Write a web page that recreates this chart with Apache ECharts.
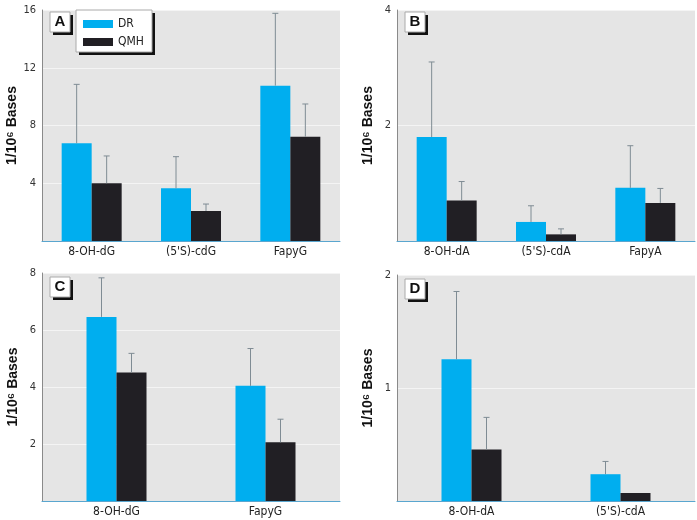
<!DOCTYPE html>
<html><head><meta charset="utf-8">
<script src="https://cdn.jsdelivr.net/npm/echarts@6/dist/echarts.min.js"></script>
<style>html,body{margin:0;padding:0;background:#fff}#c{width:697px;height:520px}</style>
</head><body><div id="c"></div>
<script>
// ---- data ----
const catsA = ['8-OH-dG', "(5'S)-cdG", 'FapyG'];
const drA = [6.77, 3.65, 10.76];
const drErrA = [4.08, 2.19, 5.01];
const qmhA = [4.0, 2.08, 7.22];
const qmhErrA = [1.89, 0.48, 2.27];

const catsB = ['8-OH-dA', "(5'S)-cdA", 'FapyA'];
const drB = [1.80, 0.33, 0.92];
const drErrB = [1.30, 0.28, 0.73];
const qmhB = [0.70, 0.115, 0.66];
const qmhErrB = [0.33, 0.095, 0.25];

const catsC = ['8-OH-dG', 'FapyG'];
const drC = [6.46, 4.04];
const drErrC = [1.37, 1.31];
const qmhC = [4.51, 2.06];
const qmhErrC = [0.67, 0.81];

const catsD = ['8-OH-dA', "(5'S)-cdA"];
const drD = [1.254, 0.237];
const drErrD = [0.60, 0.113];
const qmhD = [0.456, 0.071];
const qmhErrD = [0.284, 0];

const yMax = [16, 4, 8, 2];
const yInt = [4, 2, 2, 1];
const panelLabels = ['A', 'B', 'C', 'D'];

// ---- styles ----
const CYAN = '#00aeef', DARK = '#211f24', ERR = '#7f8c94';
const FONT = "'Liberation Sans Narrow','DejaVu Sans Condensed','Liberation Sans',sans-serif";
const BW = 30;

const grids = [
  {left: 42, top: 10, width: 298, height: 231},
  {left: 397, top: 10, width: 298, height: 231},
  {left: 42, top: 273, width: 298, height: 228},
  {left: 397, top: 275, width: 298, height: 226}
];
const panels = [
  [catsA, drA, drErrA, qmhA, qmhErrA],
  [catsB, drB, drErrB, qmhB, qmhErrB],
  [catsC, drC, drErrC, qmhC, qmhErrC],
  [catsD, drD, drErrD, qmhD, qmhErrD]
];

function shadowBox(x, y, w, h) {
  return [
    {type: 'rect', z: 3, shape: {x: x + 3, y: y + 3, width: w, height: h}, style: {fill: '#111'}},
    {type: 'rect', z: 3, shape: {x: x, y: y, width: w, height: h}, style: {fill: '#fff', stroke: '#aaa', lineWidth: 1}}
  ];
}

const option = {
  animation: false,
  grid: grids.map(g => Object.assign({show: true, backgroundColor: '#e5e5e5', borderWidth: 0}, g)),
  xAxis: panels.map((p, i) => ({
    type: 'category', gridIndex: i, data: p[0],
    axisLine: {lineStyle: {color: '#5aa6cf', width: 1}},
    axisTick: {show: false},
    axisLabel: {color: '#222', fontSize: 12, fontFamily: FONT, margin: 5}
  })),
  yAxis: panels.map((p, i) => ({
    type: 'value', gridIndex: i, min: 0, max: yMax[i], interval: yInt[i],
    name: '1/10⁶ Bases', nameLocation: 'middle', nameGap: 22,
    nameTextStyle: {fontSize: 14, fontWeight: 'bold', color: '#111', fontFamily: "'Liberation Sans','Arial',sans-serif"},
    axisLine: {show: true, lineStyle: {color: '#8a8a8a', width: 1}},
    axisTick: {show: false},
    axisLabel: {showMinLabel: false, color: '#333', fontSize: 11, fontFamily: FONT, margin: 6},
    splitLine: {lineStyle: {color: '#f4f4f4', width: 1}}
  })),
  legend: {
    data: ['DR', 'QMH'], orient: 'vertical', left: 76, top: 10, z: 6,
    padding: [8, 0, 0, 7], itemWidth: 30, itemHeight: 8, itemGap: 6,
    textStyle: {color: '#222', fontSize: 12, fontFamily: FONT},
    icon: 'rect', selectedMode: false
  },
  graphic: shadowBox(76, 10, 76, 42),
  series: []
};

function errRender(offset) {
  return function (params, api) {
    const sd = api.value(2);
    if (!sd) return null;
    const p0 = api.coord([api.value(0), api.value(1)]);
    const p1 = api.coord([api.value(0), api.value(1) + sd]);
    const x = p0[0] + offset;
    const st = {stroke: ERR, lineWidth: 1};
    return {type: 'group', children: [
      {type: 'line', shape: {x1: x, y1: p0[1], x2: x, y2: p1[1]}, style: st},
      {type: 'line', shape: {x1: x - 3, y1: p1[1], x2: x + 3, y2: p1[1]}, style: st}
    ]};
  };
}

panels.forEach((p, i) => {
  const [cats, dr, drE, qm, qmE] = p;
  option.series.push({name: 'DR', type: 'bar', xAxisIndex: i, yAxisIndex: i, data: dr, barWidth: BW, barGap: '0%', itemStyle: {color: CYAN}});
  option.series.push({name: 'QMH', type: 'bar', xAxisIndex: i, yAxisIndex: i, data: qm, barWidth: BW, barGap: '0%', itemStyle: {color: DARK}});
  option.series.push({name: 'DR err', type: 'custom', xAxisIndex: i, yAxisIndex: i, z: 5,
    data: dr.map((v, k) => [k, v, drE[k]]), renderItem: errRender(-BW / 2)});
  option.series.push({name: 'QMH err', type: 'custom', xAxisIndex: i, yAxisIndex: i, z: 5,
    data: qm.map((v, k) => [k, v, qmE[k]]), renderItem: errRender(BW / 2)});
  const g = grids[i];
  const bx = g.left + 8, by = g.top + (i < 2 ? 2 : 4);
  shadowBox(bx, by, 20, 20).forEach(r => option.graphic.push(r));
  option.graphic.push({type: 'text', z: 4, x: bx + 10, y: by + 10,
    style: {text: panelLabels[i], fill: '#111', font: "bold 15px 'Liberation Sans', Arial, sans-serif", align: 'center', verticalAlign: 'middle'}});
});

const chart = echarts.init(document.getElementById('c'), null, {renderer: 'canvas'});
chart.setOption(option);
</script>
</body></html>
